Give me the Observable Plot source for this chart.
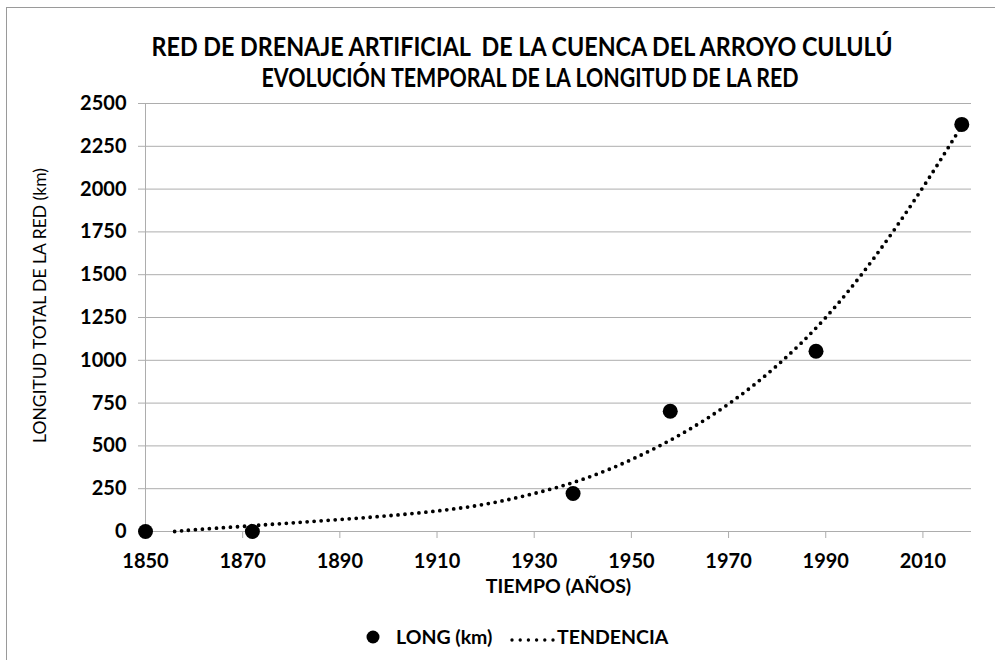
<!DOCTYPE html>
<html>
<head>
<meta charset="utf-8">
<script src="https://cdn.jsdelivr.net/npm/d3@7"></script>
<script src="https://cdn.jsdelivr.net/npm/@observablehq/plot@0.6"></script>
<style>
  html, body { margin: 0; padding: 0; background: #fff; }
  #wrap { position: relative; width: 995px; height: 660px; overflow: hidden; background: #fff; font-family: Lato, "Open Sans", sans-serif; }
  #frame { position: absolute; left: 6px; top: 7px; width: 1000px; height: 700px; border-left: 1px solid #9a9a9a; border-top: 1px solid #9a9a9a; }
  #title { position: absolute; top: 20px; left: 0; }
  #chart { position: absolute; top: 100px; left: 0; }
  #legend { position: absolute; top: 620px; left: 0; }
</style>
</head>
<body>
<div id="wrap">
  <div id="frame"></div>
  <div id="title"></div>
  <div id="chart"></div>
  <div id="legend"></div>
</div>
<script>
// Data
const years = [1850, 1872, 1938, 1958, 1988, 2018];
const lengths = [0, 0, 222, 702, 1053, 2378];
const trendYears = [1856, 1860, 1870, 1880, 1890, 1900, 1910, 1920, 1930, 1940, 1950, 1960, 1970, 1980, 1990, 2000, 2010, 2018];
const trendValues = [0, 10, 30, 50, 70, 92, 120, 160, 222, 305, 420, 565, 745, 970, 1250, 1600, 2010, 2370];
const xTicks = [1850, 1870, 1890, 1910, 1930, 1950, 1970, 1990, 2010];
const yTicks = [0, 250, 500, 750, 1000, 1250, 1500, 1750, 2000, 2250, 2500];
const titleLines = ["RED DE DRENAJE ARTIFICIAL\u00a0 DE LA CUENCA DEL ARROYO CULULÚ", "EVOLUCIÓN TEMPORAL DE LA LONGITUD DE LA RED"];
const seriesLabels = ["LONG (km)", "TENDENCIA"];
const xTitle = "TIEMPO (AÑOS)";
const yTitle = "LONGITUD TOTAL DE LA RED (km)";

const points = years.map((y, i) => ({year: y, value: lengths[i]}));
const trend = trendYears.map((y, i) => ({year: y, value: trendValues[i]}));

const gridColor = "#adadad";
const ns = "http://www.w3.org/2000/svg";

// Title (real text)
const ts = document.createElementNS(ns, "svg");
ts.setAttribute("width", 995);
ts.setAttribute("height", 75);
ts.style.fontFamily = "Lato, 'Open Sans', sans-serif";
const titleGeom = [{cx: 522, y: 35.5, len: 741}, {cx: 530, y: 66.5, len: 537}];
titleLines.forEach((s, i) => {
  const t = document.createElementNS(ns, "text");
  t.setAttribute("x", titleGeom[i].cx);
  t.setAttribute("y", titleGeom[i].y);
  t.setAttribute("text-anchor", "middle");
  t.setAttribute("font-size", 26);
  t.setAttribute("font-weight", "bold");
  t.setAttribute("textLength", titleGeom[i].len);
  t.setAttribute("lengthAdjust", "spacingAndGlyphs");
  t.textContent = s;
  ts.appendChild(t);
});
document.getElementById("title").appendChild(ts);

const chart = Plot.plot({
  width: 995,
  height: 510,
  marginTop: 3,
  marginBottom: 79,
  marginLeft: 145,
  marginRight: 24,
  style: {fontFamily: "Lato, 'Open Sans', sans-serif", fontSize: "20px", fontWeight: "bold", color: "#000", background: "transparent", overflow: "visible"},
  x: {domain: [1850, 2020]},
  y: {domain: [0, 2500]},
  marks: [
    Plot.gridY(yTicks, {stroke: gridColor, strokeOpacity: 1, strokeWidth: 1}),
    Plot.ruleX([1850], {stroke: gridColor, strokeWidth: 1}),
    Plot.axisY(yTicks, {tickSize: 7, tickPadding: 12, stroke: gridColor, label: null, fontSize: 20, tickFormat: d => String(d)}),
    Plot.axisX(xTicks, {tickSize: 7, tickPadding: 15, stroke: gridColor, label: null, fontSize: 20, tickFormat: d => String(d)}),
    Plot.ruleY([0], {stroke: gridColor, strokeWidth: 1}),
    Plot.line(trend, {x: "year", y: "value", curve: "natural", stroke: "#000", strokeWidth: 3.8, strokeDasharray: "0 7", strokeLinecap: "round"}),
    Plot.dot(points, {x: "year", y: "value", r: 7.5, fill: "#000", stroke: "none"}),
    Plot.text([xTitle], {frameAnchor: "bottom", dy: 61, fontSize: 19.5, fontWeight: "bold", fill: "#000"}),
    Plot.text([yTitle], {frameAnchor: "left", textAnchor: "middle", dx: -105, dy: -12, rotate: -90, fontSize: 17.5, fontWeight: "normal", fill: "#000"})
  ]
});
document.getElementById("chart").appendChild(chart);

// Legend (real text)
const lg = document.createElementNS(ns, "svg");
lg.setAttribute("width", 995);
lg.setAttribute("height", 34);
lg.style.fontFamily = "Lato, 'Open Sans', sans-serif";
const c = document.createElementNS(ns, "circle");
c.setAttribute("cx", 373); c.setAttribute("cy", 17); c.setAttribute("r", 6.5); c.setAttribute("fill", "#000");
lg.appendChild(c);
const t1 = document.createElementNS(ns, "text");
t1.setAttribute("x", 396); t1.setAttribute("y", 24); t1.setAttribute("font-size", 19.5); t1.setAttribute("font-weight", "bold");
t1.textContent = seriesLabels[0];
lg.appendChild(t1);
const l = document.createElementNS(ns, "line");
l.setAttribute("x1", 512); l.setAttribute("x2", 553); l.setAttribute("y1", 20); l.setAttribute("y2", 20);
l.setAttribute("stroke", "#000"); l.setAttribute("stroke-width", 3.4); l.setAttribute("stroke-dasharray", "0 8.2"); l.setAttribute("stroke-linecap", "round");
lg.appendChild(l);
const t2 = document.createElementNS(ns, "text");
t2.setAttribute("x", 557); t2.setAttribute("y", 24); t2.setAttribute("font-size", 19.5); t2.setAttribute("font-weight", "bold");
t2.textContent = seriesLabels[1];
lg.appendChild(t2);
document.getElementById("legend").appendChild(lg);
</script>
</body>
</html>
